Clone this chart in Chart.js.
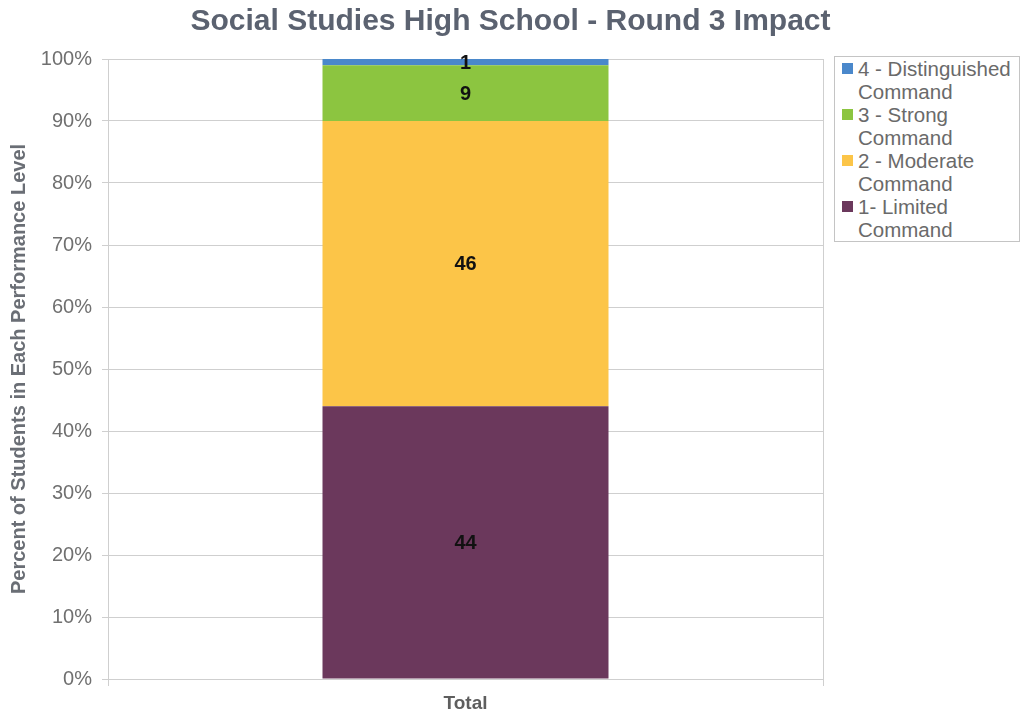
<!DOCTYPE html>
<html>
<head>
<meta charset="utf-8">
<script src="https://cdn.jsdelivr.net/npm/chart.js@4.4.0/dist/chart.umd.min.js"></script>
<style>
  html, body { margin: 0; padding: 0; background: #fff; }
  #wrap { position: relative; width: 1021px; height: 716px; }
  #legend {
    position: absolute; left: 834px; top: 56px; width: 184px;
    border: 1px solid #c4c4c4; background: #fff;
    font-family: "Liberation Sans", Arial, sans-serif; font-size: 20.5px;
    line-height: 23px; color: #6a6a6a;
  }
  .item { display: flex; align-items: flex-start; padding-left: 7px; }
  .box { width: 11px; height: 11px; margin-top: 6px; margin-right: 5px; flex: none; }
  .txt { width: 162px; }
</style>
</head>
<body>
<div id="wrap">
  <canvas id="chart" width="1021" height="716"></canvas>
  <div id="legend"></div>
</div>
<script>
// valores por nivel de desempenho (percentual)
var categorias = ['Total'];
var niveis = ['1- Limited Command', '2 - Moderate Command', '3 - Strong Command', '4 - Distinguished Command'];
var valores = [[44], [46], [9], [1]];
var cores = ['#6b385c', '#fcc548', '#8cc540', '#4a88cb'];
var ticksY = ['0%', '10%', '20%', '30%', '40%', '50%', '60%', '70%', '80%', '90%', '100%'];

var fonte = '"Liberation Sans", Arial, sans-serif';
var cinzaGrade = '#cfcfcf';

// escreve o valor no centro de cada segmento
var rotulos = {
  id: 'rotulos',
  afterDatasetsDraw: function(chart) {
    var ctx = chart.ctx;
    ctx.save();
    ctx.font = 'bold 20px ' + fonte;
    ctx.fillStyle = '#111';
    ctx.textAlign = 'center';
    ctx.textBaseline = 'middle';
    chart.data.datasets.forEach(function(ds, i) {
      var meta = chart.getDatasetMeta(i);
      meta.data.forEach(function(bar, j) {
        ctx.fillText(String(ds.data[j]), bar.x, (bar.y + bar.base) / 2 + 1);
      });
    });
    ctx.restore();
  }
};

var datasets = niveis.map(function(n, i) {
  return {
    label: n,
    data: valores[i],
    backgroundColor: cores[i],
    borderWidth: 0,
    barPercentage: 0.4,
    categoryPercentage: 1
  };
});

var ctx = document.getElementById('chart').getContext('2d');
var grafico = new Chart(ctx, {
  type: 'bar',
  data: { labels: categorias, datasets: datasets },
  options: {
    responsive: false,
    animation: false,
    layout: { padding: 0 },
    plugins: {
      legend: { display: false },
      tooltip: { enabled: false },
      title: {
        display: true,
        text: 'Social Studies High School - Round 3 Impact',
        color: '#5b6270',
        font: { family: fonte, size: 30, weight: 'bold' },
        padding: { top: 4, bottom: 19 }
      }
    },
    scales: {
      x: {
        stacked: true,
        grid: { color: cinzaGrade, tickLength: 7, offset: true },
        border: { color: cinzaGrade },
        ticks: { color: '#5e5e5e', padding: 6, font: { family: fonte, size: 19, weight: 'bold' } },
        afterFit: function(s) { s.height = 37; }
      },
      y: {
        stacked: true,
        min: 0,
        max: 100,
        ticks: {
          stepSize: 10,
          padding: 10,
          color: '#707070',
          font: { family: fonte, size: 20 },
          callback: function(v, i) { return ticksY[i]; }
        },
        grid: { color: cinzaGrade, tickLength: 6 },
        border: { color: cinzaGrade },
        title: {
          display: true,
          text: 'Percent of Students in Each Performance Level',
          color: '#6a6e75',
          font: { family: fonte, size: 20, weight: 'bold' },
          padding: { top: 7, bottom: 0 }
        },
        afterFit: function(s) { s.width = 108; }
      },
      // eixo vazio a direita so para reservar espaco da legenda
      lado: {
        position: 'right',
        display: true,
        grid: { display: false },
        border: { display: false },
        ticks: { display: false },
        afterFit: function(s) { s.width = 198; }
      }
    }
  },
  plugins: [rotulos]
});

// legenda em html, do nivel mais alto para o mais baixo
var legenda = document.getElementById('legend');
for (var i = niveis.length - 1; i >= 0; i--) {
  var item = document.createElement('div');
  item.className = 'item';
  var q = document.createElement('span');
  q.className = 'box';
  q.style.background = cores[i];
  var t = document.createElement('span');
  t.className = 'txt';
  t.textContent = niveis[i];
  item.appendChild(q);
  item.appendChild(t);
  legenda.appendChild(item);
}
</script>
</body>
</html>
